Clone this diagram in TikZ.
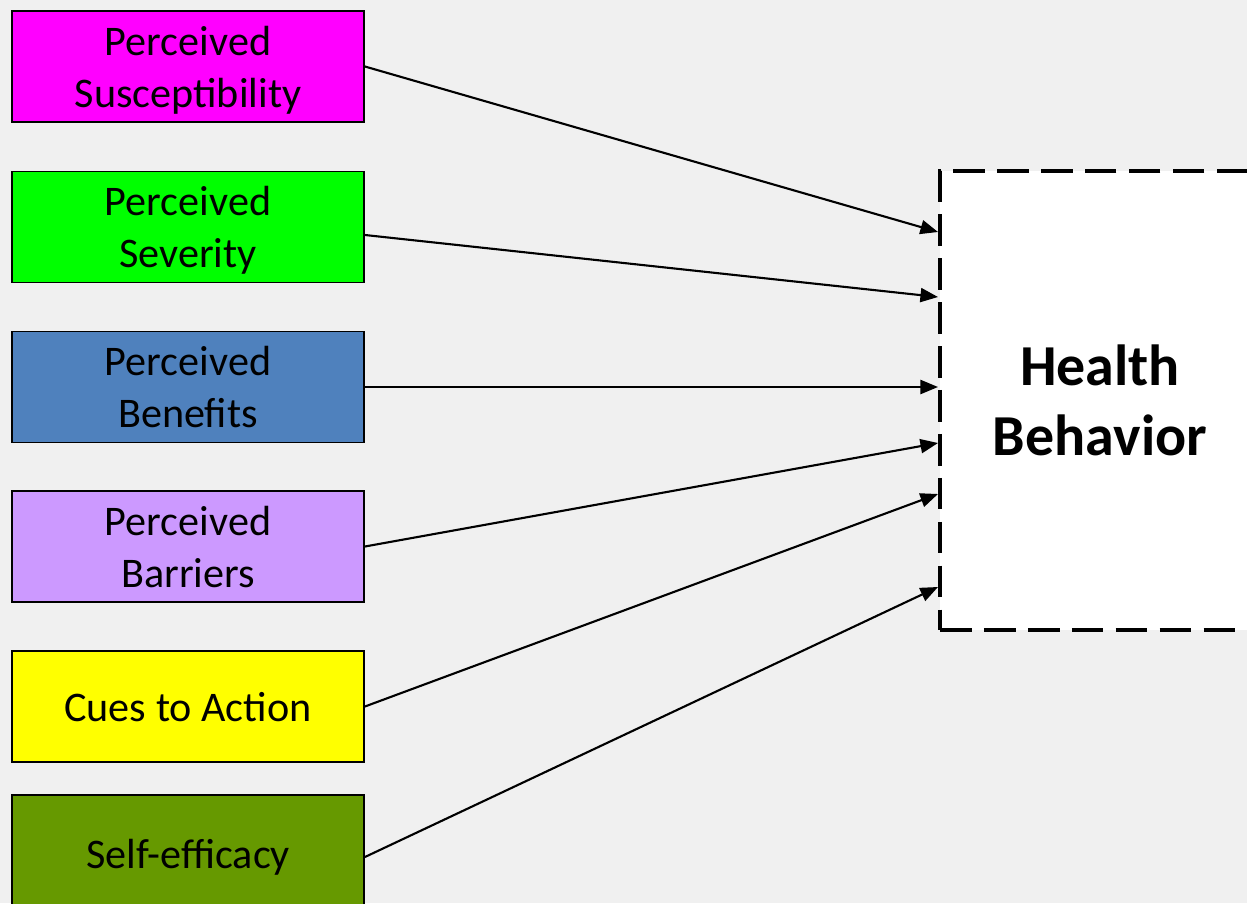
\documentclass[tikz,border=0pt]{standalone}
\usepackage{fontspec}
\setmainfont{Carlito}
\usepackage{tikz}
\usetikzlibrary{arrows.meta,calc}

\definecolor{bggray}{HTML}{F0F0F0}
\definecolor{suscol}{HTML}{FF00FF}
\definecolor{sevcol}{HTML}{00FF00}
\definecolor{bencol}{HTML}{4F81BD}
\definecolor{barcol}{HTML}{CC99FF}
\definecolor{cuecol}{HTML}{FFFF00}
\definecolor{effcol}{HTML}{669900}

\begin{document}
\begin{tikzpicture}[x=0.02cm,y=-0.02cm,
    factor/.style={draw=black,line width=1.1pt,inner sep=0pt,
        minimum width=7.04cm,minimum height=2.22cm,align=center,
        text depth=0pt,font=\fontsize{24}{29.5}\selectfont},
    outcome/.style={draw=black,fill=white,line width=2.3pt,
        dash pattern=on 18pt off 7pt,inner sep=0pt,
        minimum width=6.4cm,minimum height=9.18cm,align=center,
        font=\fontsize{33}{40}\selectfont\bfseries},
    link/.style={line width=1.2pt,-{Triangle[length=10pt,width=8pt]}}]

\clip (0,0) rectangle (1247,903);
\fill[bggray] (0,0) rectangle (1247,903);

% the six factors
\node[factor,fill=suscol] (sus) at (188,66.5) {Perceived\\Susceptibility};
\node[factor,fill=sevcol] (sev) at (188,227)  {Perceived\\Severity};
\node[factor,fill=bencol] (ben) at (188,387)  {Perceived\\Benefits};
\node[factor,fill=barcol] (bar) at (188,546.5) {Perceived\\Barriers};
\node[factor,fill=cuecol] (cue) at (188,706.5) {Cues to Action};
\node[factor,fill=effcol,minimum height=2.48cm,text depth=] (eff) at (188,857) {Self-efficacy};

% outcome
\node[outcome] (hb) at (1100,400.5) {Health\\Behavior};

\foreach \src/\sy/\dy in {sus/0/-168.5, sev/8/-103.5, ben/0/-13.5,
                          bar/0/42.5, cue/0/93.5, eff/0/186.5}
    \draw[link] ($(\src.east)+(0,\sy)$) -- ($(hb.west)+(0,\dy)$);
\end{tikzpicture}
\end{document}
